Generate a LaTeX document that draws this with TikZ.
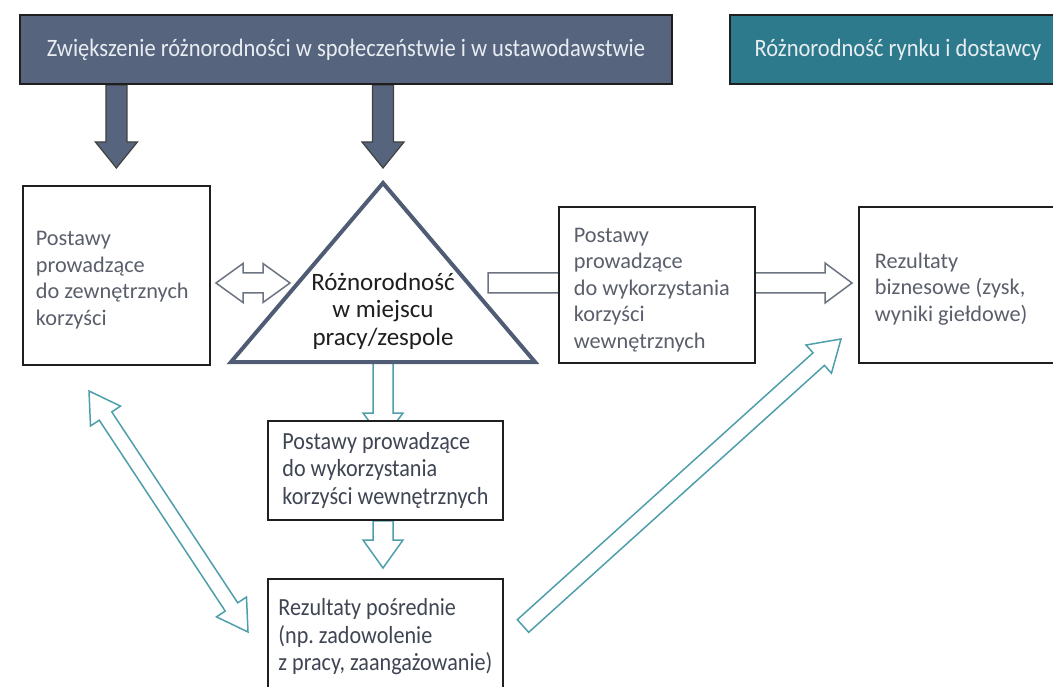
\documentclass[tikz,border=0pt]{standalone}
\usepackage{fontspec}
\setmainfont{Carlito}
\newfontfamily\condfont[FakeStretch=0.9]{Carlito}
\usepackage{tikz}
\usetikzlibrary{calc,positioning,backgrounds}

\definecolor{slate}{HTML}{56647E}
\definecolor{tealbox}{HTML}{2C7A8B}
\definecolor{arrteal}{HTML}{4E9FAB}
\definecolor{arrgray}{HTML}{6C7381}
\definecolor{boxtext}{HTML}{5A5F6B}
\definecolor{condtext}{HTML}{3F4553}
\definecolor{edge}{HTML}{1F1F1F}
\definecolor{toptext}{HTML}{E8EDF2}

\newcommand{\blockarrow}[6][]{%
  \coordinate (ba-n) at ($(#3)!#6!(#2)$);
  \draw[#1] ($(#2)!#4!90:(#3)$) -- ($(ba-n)!#4!90:(#3)$) -- ($(ba-n)!#5!90:(#3)$) -- (#3)
    -- ($(ba-n)!#5!-90:(#3)$) -- ($(ba-n)!#4!-90:(#3)$) -- ($(#2)!#4!-90:(#3)$) -- cycle;}
\newcommand{\dblarrow}[6][]{%
  \coordinate (da-a) at ($(#2)!#6!(#3)$);
  \coordinate (da-b) at ($(#3)!#6!(#2)$);
  \draw[#1] (#2) -- ($(da-a)!#5!90:(#3)$) -- ($(da-a)!#4!90:(#3)$) -- ($(da-b)!#4!90:(#3)$)
    -- ($(da-b)!#5!90:(#3)$) -- (#3) -- ($(da-b)!#5!-90:(#3)$) -- ($(da-b)!#4!-90:(#3)$)
    -- ($(da-a)!#4!-90:(#3)$) -- ($(da-a)!#5!-90:(#3)$) -- cycle;}

\frenchspacing
\begin{document}
\begin{tikzpicture}[x=1pt,y=-1pt,
  topbox/.style={draw=edge,line width=2pt,minimum height=69pt,inner sep=0pt,
    text=toptext,font=\condfont\fontsize{25}{28}\selectfont},
  plainbox/.style={draw=edge,line width=1.8pt,fill=white,anchor=north west,
    inner xsep=14pt,inner ysep=0pt,align=flush left,text=boxtext,
    font=\fontsize{22.3}{26.5}\selectfont,execute at begin node={\rule{0pt}{24pt}}},
  condbox/.style={draw=edge,line width=1.8pt,fill=white,anchor=north west,
    inner sep=0pt,minimum width=235pt,align=left,text=condtext,
    font=\condfont\fontsize{24.6}{27.5}\selectfont,execute at begin node={\rule{0pt}{25.5pt}}},
  darkarrow/.style={draw=edge!85,fill=slate,line width=1.2pt,line join=miter},
  grayarrow/.style={draw=arrgray,fill=white,line width=1.5pt,line join=miter},
  tealarrow/.style={draw=arrteal,fill=white,line width=1.5pt,line join=miter}]
  \clip (0,0) rectangle (1053,687);

  \node[topbox,fill=slate,minimum width=652pt] (soc) at (346,49.5)
    {Zwiększenie różnorodności w społeczeństwie i w ustawodawstwie};
  \node[topbox,fill=tealbox,minimum width=336pt] (mkt) at (898,49.5)
    {Różnorodność rynku i dostawcy};

  \node[plainbox,text width=161pt,minimum height=179pt,inner xsep=13pt] (ext) at (22,185)
    {Postawy\\prowadzące\\do zewnętrznych\\korzyści};
  \node[plainbox,text width=166pt,minimum height=156pt,inner xsep=15pt] (intl) at (558,206)
    {Postawy\\prowadzące\\do wykorzystania\\korzyści\\wewnętrznych};
  \node[plainbox,text width=180pt,minimum height=156pt,inner xsep=16pt] (biz) at (858,206)
    {Rezultaty\\biznesowe (zysk,\\wyniki giełdowe)};
  \node[condbox,minimum height=99pt] (intc) at (267,420)
    {Postawy prowadzące\\do wykorzystania\\korzyści wewnętrznych};
  \node[condbox,minimum height=116pt] (mid) at (267,578)
    {Rezultaty pośrednie\\(np. zadowolenie\\z pracy, zaangażowanie)};

  \coordinate (apex) at (383,183);
  \coordinate (bl) at (231,362);
  \coordinate (br) at (535,362);
  \draw[draw=slate!92!black,line width=4pt,line join=miter,fill=white] (apex) -- (bl) -- (br) -- cycle;
  \node[align=center,text=black!88,font=\fontsize{25}{27.5}\selectfont] (div) at (383,311)
    {Różnorodność\\w miejscu\\pracy/zespole};

  \coordinate (s1) at (soc.south -| ext.north);
  \coordinate (e1) at ($(ext.north)+(0,-17)$);
  \coordinate (s2) at (soc.south -| apex);
  \coordinate (e2) at ($(apex)+(0,-15)$);
  \coordinate (dl) at (216,283);
  \coordinate (dr) at (290,283);
  \coordinate (gs) at (488,283);
  \coordinate (ge) at (852,283);
  \coordinate (ts) at (383,362);
  \coordinate (te) at ($(intc.north -| ts)+(0,20)$);
  \coordinate (cs) at (intc.south -| ts);
  \coordinate (ce) at ($(mid.north -| ts)+(0,-10)$);
  \coordinate (ll) at (89,391);
  \coordinate (lr) at (248,632);
  \coordinate (rs) at (523,626);
  \coordinate (re) at (841,339);

  \begin{scope}[on background layer]
    \blockarrow[darkarrow]{s1}{e1}{10.5pt}{21pt}{26pt}
    \blockarrow[darkarrow]{s2}{e2}{10.5pt}{21pt}{26pt}
    \dblarrow[grayarrow]{dl}{dr}{10pt}{19.5pt}{27pt}
    \blockarrow[grayarrow]{gs}{ge}{10pt}{20pt}{27pt}
    \blockarrow[tealarrow]{ts}{te}{10pt}{20pt}{27pt}
    \blockarrow[tealarrow]{cs}{ce}{10pt}{20pt}{28pt}
    \dblarrow[tealarrow]{ll}{lr}{7.5pt}{18pt}{30pt}
    \blockarrow[tealarrow]{rs}{re}{8.5pt}{19pt}{30pt}
  \end{scope}
\end{tikzpicture}
\end{document}
